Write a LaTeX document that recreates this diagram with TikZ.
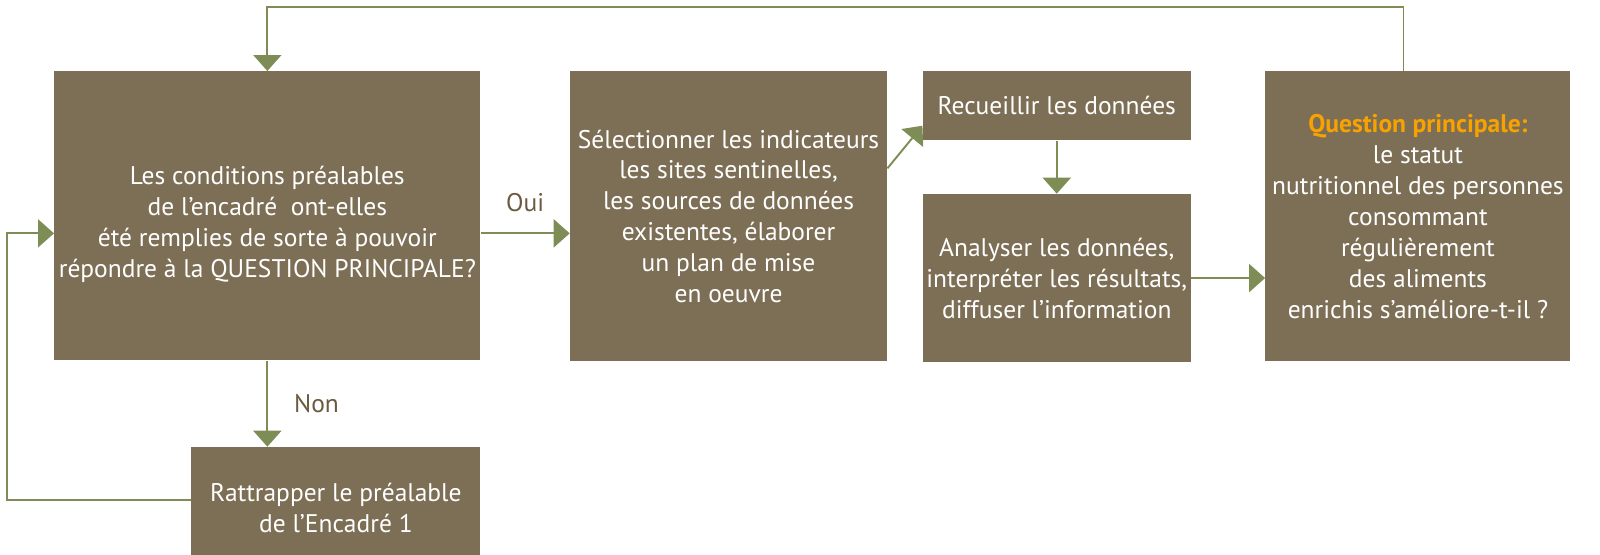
\documentclass[tikz,border=0pt]{standalone}
\usepackage{fontspec}
\setmainfont{PT Sans}
\usepackage{xcolor}
\usetikzlibrary{positioning, calc, arrows.meta}
\definecolor{boxbrown}{HTML}{7D6F55}
\definecolor{linkgreen}{HTML}{7E8D56}
\definecolor{lblbrown}{HTML}{6B5A40}
\definecolor{qorange}{HTML}{F7A200}

\begin{document}
\begin{tikzpicture}[box/.style={rectangle, fill=boxbrown, text=white, align=center, inner sep=0pt, font=\fontsize{14.5}{17.6}\selectfont},
  flow/.style={draw=linkgreen, line width=1.1pt, ->},
  lbl/.style={text=lblbrown, font=\fontsize{14.5}{17.6}\selectfont},
  >={Triangle[width=0.56cm, length=0.32cm]}]
  \useasboundingbox (0,0) rectangle (32,-11.08);
  \coordinate (loop) at (0.14,0);
  \node[box, minimum width=8.52cm, minimum height=5.78cm, anchor=north west] (A) at (1.08,-1.42) {\rule{0pt}{20pt}Les conditions préalables\\de l’encadré\ \ ont-elles\\été remplies de sorte à pouvoir\\répondre à la QUESTION PRINCIPALE?};
  \node[box, minimum width=6.34cm, minimum height=5.8cm, right=1.78cm of A.north east, anchor=north west] (B) {Sélectionner les indicateurs\\les sites sentinelles,\\les sources de données\\existentes, élaborer\\un plan de mise\\en oeuvre};
  \node[box, minimum width=5.36cm, minimum height=1.38cm, right=0.7cm of B.north east, anchor=north west] (R) {Recueillir les données};
  \node[box, minimum width=5.36cm, minimum height=3.36cm, below=1.06cm of R.south west, anchor=north west] (N) {Analyser les données,\\interpréter les résultats,\\diffuser l’information};
  \node[box, minimum width=6.1cm, minimum height=5.8cm, right=1.48cm of R.north east, anchor=north west] (Q) {{\bfseries\color{qorange}Question principale:}\\le statut\\nutritionnel des personnes\\consommant\\régulièrement\\des aliments\\enrichis s’améliore-t-il ?};
  \node[box, minimum width=5.78cm, minimum height=2.44cm, below=1.72cm of A.south east, anchor=north east] (T) {Rattrapper le préalable\\de l’Encadré 1};
  \draw[flow] ([yshift=-0.35cm]A.east) -- node[lbl, midway, above=0.3cm] (oui) {Oui} ([yshift=-0.35cm]A.east -| B.west);
  \draw[flow] (A.south) -- node[lbl, midway, right=0.4cm] (non) {Non} (A.south |- T.north);
  \draw[flow] ([yshift=0.96cm]B.east) -- ([yshift=0.3cm]R.south west);
  \draw[flow] (R.south) -- (R.south |- N.north);
  \draw[flow] (N.east) -- (N.east -| Q.west);
  \draw[flow] ([xshift=-0.29cm]Q.north) -- ++(0,1.28) -| (A.north);
  \draw[flow] ([yshift=0.16cm]T.west) -- ([yshift=0.16cm]T.west -| loop) |- ([yshift=-0.35cm]A.west);
\end{tikzpicture}
\end{document}
